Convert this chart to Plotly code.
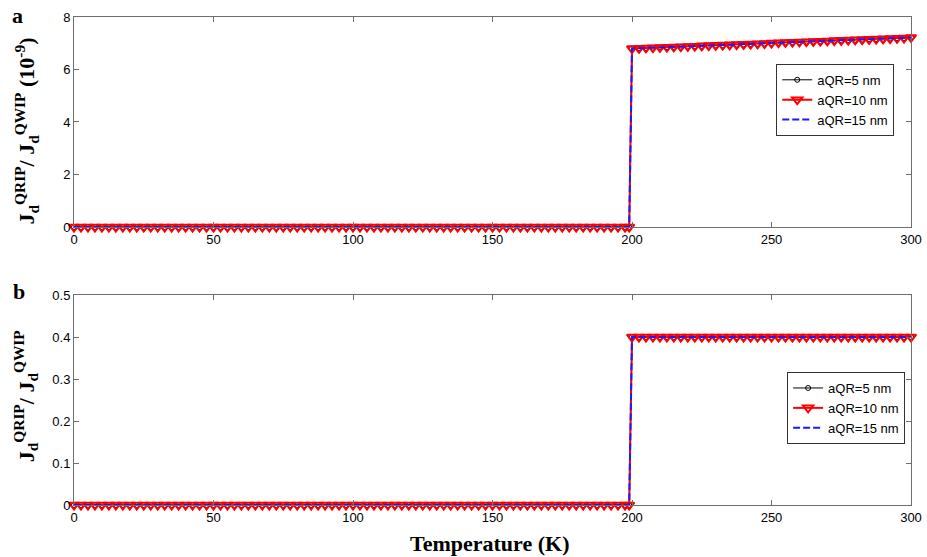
import plotly.graph_objects as go

# ---------------- data ----------------
temperature_K = [
    0, 2.5, 5, 7.5, 10, 12.5, 15, 17.5, 20, 22.5, 25, 27.5, 30, 32.5, 35, 37.5, 40, 42.5, 45, 47.5,
    50, 52.5, 55, 57.5, 60, 62.5, 65, 67.5, 70, 72.5, 75, 77.5, 80, 82.5, 85, 87.5, 90, 92.5, 95, 97.5,
    100, 102.5, 105, 107.5, 110, 112.5, 115, 117.5, 120, 122.5, 125, 127.5, 130, 132.5, 135, 137.5, 140, 142.5, 145, 147.5,
    150, 152.5, 155, 157.5, 160, 162.5, 165, 167.5, 170, 172.5, 175, 177.5, 180, 182.5, 185, 187.5, 190, 192.5, 195, 197.5,
    199,
    200, 202.5, 205, 207.5, 210, 212.5, 215, 217.5, 220, 222.5, 225, 227.5, 230, 232.5, 235, 237.5, 240, 242.5, 245, 247.5,
    250, 252.5, 255, 257.5, 260, 262.5, 265, 267.5, 270, 272.5, 275, 277.5, 280, 282.5, 285, 287.5, 290, 292.5, 295, 297.5,
    300,
]

# panel a : Jd(QRIP)/Jd(QWIP) in units of 1e-9 (all three aQR curves coincide)
ratio_a = [
    0, 0, 0, 0, 0, 0, 0, 0, 0, 0, 0, 0, 0, 0, 0, 0, 0, 0, 0, 0,
    0, 0, 0, 0, 0, 0, 0, 0, 0, 0, 0, 0, 0, 0, 0, 0, 0, 0, 0, 0,
    0, 0, 0, 0, 0, 0, 0, 0, 0, 0, 0, 0, 0, 0, 0, 0, 0, 0, 0, 0,
    0, 0, 0, 0, 0, 0, 0, 0, 0, 0, 0, 0, 0, 0, 0, 0, 0, 0, 0, 0,
    0,
    6.80, 6.81, 6.82, 6.83, 6.84, 6.85, 6.86, 6.87, 6.88, 6.89, 6.90, 6.91, 6.92, 6.93, 6.94, 6.95, 6.96, 6.97, 6.98, 6.99,
    7.01, 7.02, 7.03, 7.04, 7.05, 7.06, 7.07, 7.08, 7.09, 7.10, 7.11, 7.12, 7.13, 7.14, 7.15, 7.16, 7.17, 7.18, 7.19, 7.20,
    7.22,
]

# panel b : Jd(QRIP)/Jd(QWIP)
ratio_b = [
    0, 0, 0, 0, 0, 0, 0, 0, 0, 0, 0, 0, 0, 0, 0, 0, 0, 0, 0, 0,
    0, 0, 0, 0, 0, 0, 0, 0, 0, 0, 0, 0, 0, 0, 0, 0, 0, 0, 0, 0,
    0, 0, 0, 0, 0, 0, 0, 0, 0, 0, 0, 0, 0, 0, 0, 0, 0, 0, 0, 0,
    0, 0, 0, 0, 0, 0, 0, 0, 0, 0, 0, 0, 0, 0, 0, 0, 0, 0, 0, 0,
    0,
    0.40, 0.40, 0.40, 0.40, 0.40, 0.40, 0.40, 0.40, 0.40, 0.40, 0.40, 0.40, 0.40, 0.40, 0.40, 0.40, 0.40, 0.40, 0.40, 0.40,
    0.40, 0.40, 0.40, 0.40, 0.40, 0.40, 0.40, 0.40, 0.40, 0.40, 0.40, 0.40, 0.40, 0.40, 0.40, 0.40, 0.40, 0.40, 0.40, 0.40,
    0.40,
]

series_names = ["aQR=5 nm", "aQR=10 nm", "aQR=15 nm"]
x_ticks = [0, 50, 100, 150, 200, 250, 300]
ya_ticks = [0, 2, 4, 6, 8]
yb_ticks = [0, 0.1, 0.2, 0.3, 0.4, 0.5]
yb_ticklabels = ["0", "0.1", "0.2", "0.3", "0.4", "0.5"]

# ---------------- figure ----------------
fig = go.Figure()

panels = [
    (ratio_a, "x", "y", "legend"),
    (ratio_b, "x2", "y2", "legend2"),
]
for vals, xa, ya, lg in panels:
    fig.add_trace(go.Scatter(
        x=temperature_K, y=vals, name=series_names[0], xaxis=xa, yaxis=ya, legend=lg,
        mode="lines+markers", cliponaxis=False,
        line=dict(color="black", width=1),
        marker=dict(symbol="circle-open", size=5, color="black", line=dict(width=1)),
    ))
    fig.add_trace(go.Scatter(
        x=temperature_K, y=vals, name=series_names[1], xaxis=xa, yaxis=ya, legend=lg,
        mode="lines+markers", cliponaxis=False,
        line=dict(color="#ff0000", width=2),
        marker=dict(symbol="triangle-down-open", size=9, color="#ff0000", line=dict(width=2)),
    ))
    fig.add_trace(go.Scatter(
        x=temperature_K, y=vals, name=series_names[2], xaxis=xa, yaxis=ya, legend=lg,
        mode="lines", cliponaxis=False,
        line=dict(color="#1a1aff", width=2, dash="7px,3px"),
    ))

tickfont = dict(family="Liberation Sans, Arial", size=13, color="black")
axis_common = dict(
    showline=True, mirror="ticks", linecolor="#6e6e6e", linewidth=1,
    ticks="inside", ticklen=5, tickcolor="#6e6e6e", tickwidth=1,
    showgrid=False, zeroline=False, tickfont=tickfont, automargin=False,
)

legend_common = dict(
    bgcolor="white", bordercolor="#333333", borderwidth=1,
    font=dict(family="Liberation Sans, Arial", size=13, color="black"),
    xanchor="left", yanchor="top", itemwidth=30, tracegroupgap=0,
)

fig.update_layout(
    width=927, height=557,
    margin=dict(l=74, r=16, t=17, b=52),
    paper_bgcolor="white", plot_bgcolor="white",
    showlegend=True,
    xaxis=dict(domain=[0, 1], anchor="y", range=[0, 300], tickvals=x_ticks, **axis_common),
    yaxis=dict(domain=[0.5697, 1], anchor="x", range=[0, 8], tickvals=ya_ticks, **axis_common),
    xaxis2=dict(domain=[0, 1], anchor="y2", range=[0, 300], tickvals=x_ticks, **axis_common),
    yaxis2=dict(domain=[0, 0.4303], anchor="x2", range=[0, 0.5], tickvals=yb_ticks,
                ticktext=yb_ticklabels, **axis_common),
    legend=dict(x=0.839, y=0.904, **legend_common),
    legend2=dict(x=0.852, y=0.2725, **legend_common),
)

title_font = dict(family="Liberation Serif, Times New Roman", size=22, color="black", weight="bold")
fig.add_annotation(
    text="J<sub>d</sub><sup>QRIP</sup>/ J<sub>d</sub><sup>QWIP</sup> (10<sup>-9</sup>)",
    xref="paper", yref="paper", x=-0.057, y=0.766, xanchor="center", yanchor="middle",
    textangle=-90, showarrow=False, font=title_font,
)
fig.add_annotation(
    text="J<sub>d</sub><sup>QRIP</sup>/ J<sub>d</sub><sup>QWIP</sup>",
    xref="paper", yref="paper", x=-0.057, y=0.2234, xanchor="center", yanchor="middle",
    textangle=-90, showarrow=False, font=title_font,
)
fig.add_annotation(
    text="Temperature (K)", xref="paper", yref="paper", x=0.497, y=-0.078,
    xanchor="center", yanchor="middle", showarrow=False,
    font=dict(family="Liberation Serif, Times New Roman", size=22, color="black", weight="bold"),
)
panel_font = dict(family="Liberation Serif, Times New Roman", size=22, color="black", weight="bold")
fig.add_annotation(text="a", xref="paper", yref="paper", x=-0.067, y=1.004,
                   xanchor="center", yanchor="middle", showarrow=False, font=panel_font)
fig.add_annotation(text="b", xref="paper", yref="paper", x=-0.066, y=0.4365,
                   xanchor="center", yanchor="middle", showarrow=False, font=panel_font)

fig.write_html("out.html")
